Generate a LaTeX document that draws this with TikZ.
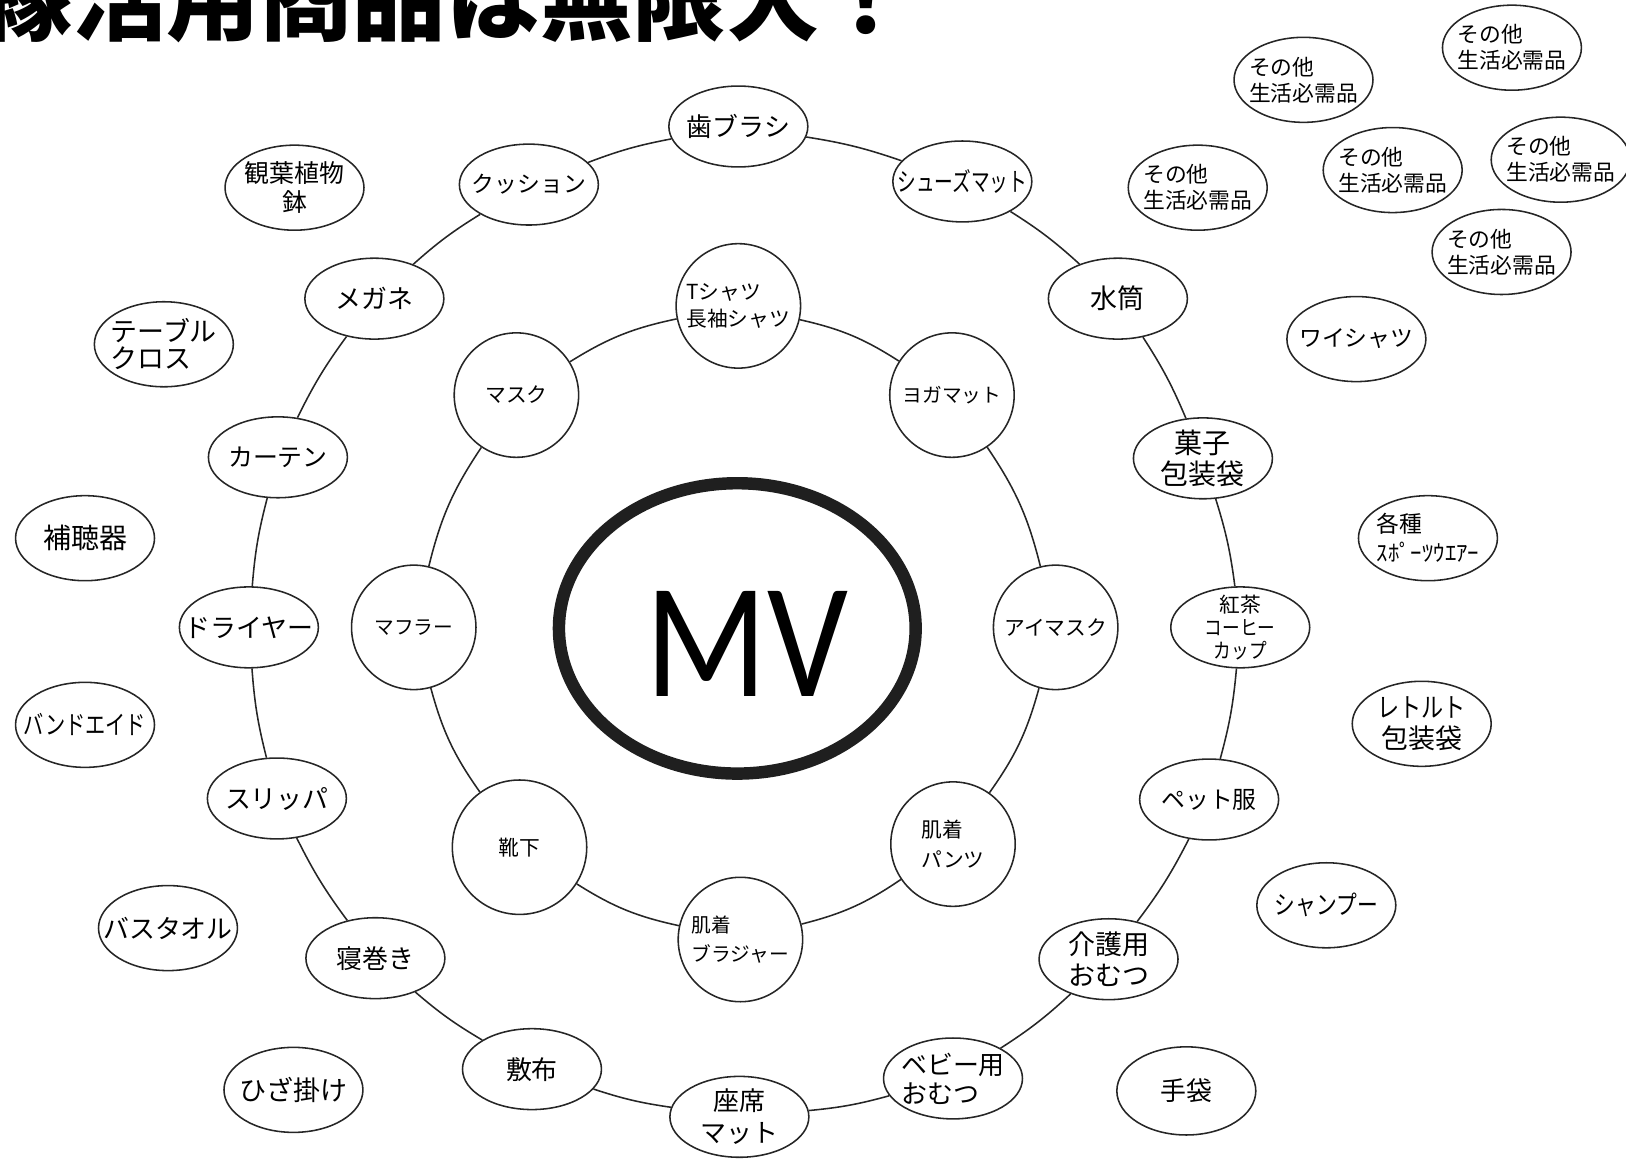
\documentclass[tikz,border=0pt]{standalone}
\usepackage{fontspec}
\setmainfont{Noto Sans CJK JP}
\newfontfamily\mvfont{Carlito}
\usetikzlibrary{shapes}

\newcommand{\narrowtext}[2]{\scalebox{#1}[1]{#2}}

\begin{document}
\begin{tikzpicture}[line join=bevel,
  outeritem/.style={ellipse, draw=black!85, line width=0.75bp, minimum width=67bp, minimum height=39bp, inner xsep=-40bp, inner ysep=-20bp, font=\fontsize{12.5bp}{15bp}\selectfont},
  inneritem/.style={circle, draw=black!85, line width=0.75bp, minimum size=60bp, inner sep=-30bp, font=\fontsize{10bp}{13bp}\selectfont},
  freeitem/.style={ellipse, draw=black!85, line width=0.75bp, minimum width=67bp, minimum height=41bp, inner xsep=-40bp, inner ysep=-20bp, font=\fontsize{12.5bp}{14bp}\selectfont},
  otheritem/.style={freeitem, align=left, font=\fontsize{10.5bp}{12.5bp}\selectfont},
  ringedge/.style={draw=black!85, line width=0.75bp},
]
\useasboundingbox (0bp,0bp) rectangle (784bp,560bp);

% Title (cut off at the top)
\begin{scope}
  \clip (0bp,0bp) rectangle (784bp,560bp);
  \node [anchor=base west, inner sep=0pt, font=\bfseries\fontsize{45bp}{45bp}\selectfont] (title) at (-10bp,544bp) {縁活用商品は無限大！};
\end{scope}

% Node: MV
\node [ellipse, draw=black!88, line width=6bp, minimum width=172bp, minimum height=140bp] (mv) at (355.5bp,257bp) {};
\node [inner sep=0pt, font=\mvfont\fontsize{79bp}{79bp}\selectfont] (mvlabel) at (360bp,249.5bp) {\narrowtext{0.87}{MV}};

% Outer ring
\node [outeritem] (haburashi) at (356bp,499bp) {歯ブラシ};
\node [outeritem] (shoesmat) at (464bp,472.5bp) {\narrowtext{0.72}{シューズマット}};
\node [outeritem, font=\fontsize{13bp}{15bp}\selectfont] (suitou) at (539bp,416bp) {水筒};
\node [outeritem, align=center, font=\fontsize{13.5bp}{15bp}\selectfont] (kashi) at (580bp,339bp) {菓子\\包装袋};
\node [outeritem, align=center, font=\fontsize{10bp}{11bp}\selectfont] (koucha) at (598bp,257.5bp) {紅茶\\\narrowtext{0.85}{コーヒー}\\\narrowtext{0.85}{カップ}};
\node [outeritem, font=\fontsize{11.5bp}{14bp}\selectfont] (petfuku) at (583bp,174.5bp) {ペット服};
\node [outeritem, align=left, font=\fontsize{13bp}{14.5bp}\selectfont] (kaigo) at (534.5bp,97.5bp) {介護用\\おむつ};
\node [outeritem, align=left, font=\fontsize{12.5bp}{14bp}\selectfont] (babyomutsu) at (459.5bp,40bp) {ベビー用\\おむつ};
\node [outeritem, align=center, font=\fontsize{12.5bp}{15.5bp}\selectfont] (zaseki) at (356.5bp,21.5bp) {座席\\マット};
\node [outeritem] (shikifu) at (256.5bp,44.5bp) {敷布};
\node [outeritem] (nemaki) at (181bp,98bp) {寝巻き};
\node [outeritem] (slipper) at (133.5bp,175bp) {スリッパ};
\node [outeritem] (dryer) at (120bp,257.5bp) {ドライヤー};
\node [outeritem, font=\fontsize{12bp}{14bp}\selectfont] (curtain) at (134bp,339.5bp) {カーテン};
\node [outeritem] (megane) at (180.5bp,416bp) {メガネ};
\node [outeritem, font=\fontsize{11bp}{14bp}\selectfont] (cushion) at (255bp,471bp) {クッション};

% Inner ring
\node [inneritem, align=left] (tshirt) at (356bp,412.5bp) {Tシャツ\\長袖シャツ};
\node [inneritem, font=\fontsize{9.5bp}{11bp}\selectfont] (yogamat) at (459bp,369.5bp) {ヨガマット};
\node [inneritem] (eyemask) at (509bp,257.5bp) {アイマスク};
\node [inneritem, align=left, font=\fontsize{10bp}{14bp}\selectfont] (hadagipants) at (459.5bp,153bp) {肌着\\パンツ};
\node [inneritem, align=left, font=\fontsize{9.5bp}{14bp}\selectfont] (hadagibra) at (357bp,107bp) {肌着\\ブラジャー};
\node [inneritem] (kutsushita) at (250.5bp,151.5bp) {靴下};
\node [inneritem, font=\fontsize{9.5bp}{12bp}\selectfont] (muffler) at (199.5bp,257.5bp) {マフラー};
\node [inneritem] (mask) at (249bp,369.5bp) {マスク};

% Free items
\node [freeitem, align=center, font=\fontsize{12bp}{14bp}\selectfont] (kanyou) at (142bp,469.5bp) {観葉植物\\鉢};
\node [freeitem, align=left, font=\fontsize{13bp}{13bp}\selectfont] (tablecloth) at (79bp,394bp) {テーブル\\クロス};
\node [freeitem, font=\fontsize{13.5bp}{15bp}\selectfont] (hochouki) at (41bp,300.5bp) {補聴器};
\node [freeitem] (bandaid) at (41bp,210.5bp) {\narrowtext{0.78}{バンドエイド}};
\node [freeitem] (bathtowel) at (81bp,112.5bp) {バスタオル};
\node [freeitem, font=\fontsize{13bp}{15bp}\selectfont] (hizakake) at (141.5bp,34.5bp) {ひざ掛け};
\node [freeitem, minimum height=42.5bp] (tebukuro) at (572bp,34bp) {手袋};
\node [freeitem] (shampoo) at (639.5bp,123.5bp) {\narrowtext{0.8}{シャンプー}};
\node [freeitem, align=center, font=\fontsize{13bp}{15bp}\selectfont] (retort) at (685.5bp,211bp) {\narrowtext{0.82}{レトルト}\\包装袋};
\node [freeitem, align=left, font=\fontsize{11bp}{14bp}\selectfont] (sportswear) at (688.5bp,300.5bp) {各種\\ｽﾎﾟｰﾂｳｴｱｰ};
\node [freeitem, font=\fontsize{11bp}{14bp}\selectfont] (yshirt) at (654bp,396.5bp) {ワイシャツ};
\node [otheritem] (sonota1) at (577.5bp,469.5bp) {その他\\生活必需品};
\node [otheritem] (sonota2) at (628.5bp,521.5bp) {その他\\生活必需品};
\node [otheritem] (sonota3) at (671.5bp,478bp) {その他\\生活必需品};
\node [otheritem] (sonota4) at (729bp,537bp) {その他\\生活必需品};
\node [otheritem] (sonota5) at (752.5bp,483bp) {その他\\生活必需品};
\node [otheritem] (sonota6) at (724bp,438.5bp) {その他\\生活必需品};

% Edges: outer ring
\draw [ringedge] (haburashi) to[bend left=5] (shoesmat);
\draw [ringedge] (shoesmat) to[bend left=5] (suitou);
\draw [ringedge] (suitou) to[bend left=5] (kashi);
\draw [ringedge] (kashi) to[bend left=5] (koucha);
\draw [ringedge] (koucha) to[bend left=5] (petfuku);
\draw [ringedge] (petfuku) to[bend left=5] (kaigo);
\draw [ringedge] (kaigo) to[bend left=5] (babyomutsu);
\draw [ringedge] (babyomutsu) to[bend left=5] (zaseki);
\draw [ringedge] (zaseki) to[bend left=5] (shikifu);
\draw [ringedge] (shikifu) to[bend left=5] (nemaki);
\draw [ringedge] (nemaki) to[bend left=5] (slipper);
\draw [ringedge] (slipper) to[bend left=5] (dryer);
\draw [ringedge] (dryer) to[bend left=5] (curtain);
\draw [ringedge] (curtain) to[bend left=5] (megane);
\draw [ringedge] (megane) to[bend left=5] (cushion);
\draw [ringedge] (cushion) to[bend left=5] (haburashi);

% Edges: inner ring
\draw [ringedge] (tshirt) to[bend left=10] (yogamat);
\draw [ringedge] (yogamat) to[bend left=10] (eyemask);
\draw [ringedge] (eyemask) to[bend left=10] (hadagipants);
\draw [ringedge] (hadagipants) to[bend left=10] (hadagibra);
\draw [ringedge] (hadagibra) to[bend left=10] (kutsushita);
\draw [ringedge] (kutsushita) to[bend left=10] (muffler);
\draw [ringedge] (muffler) to[bend left=10] (mask);
\draw [ringedge] (mask) to[bend left=10] (tshirt);

\end{tikzpicture}
\end{document}
